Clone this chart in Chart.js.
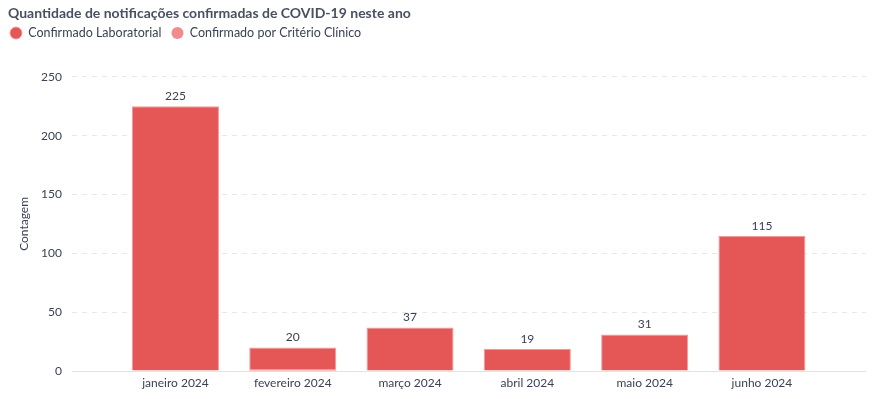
<!DOCTYPE html>
<html>
<head>
<meta charset="utf-8">
<script src="https://cdn.jsdelivr.net/npm/chart.js@4.4.1/dist/chart.umd.min.js"></script>
<style>
  html, body { margin: 0; padding: 0; background: #fff; }
  #wrap { width: 880px; height: 399px; }
</style>
</head>
<body>
<div id="wrap"><canvas id="bars"></canvas></div>
<script>
// dados do grafico
const meses = ['janeiro 2024', 'fevereiro 2024', 'março 2024', 'abril 2024', 'maio 2024', 'junho 2024'];
const laboratorial = [225, 19, 37, 19, 31, 115];
const clinico = [0, 1, 0, 0, 0, 0];
const yTicks = [0, 50, 100, 150, 200, 250];

const textColor = '#3b4256';
Chart.defaults.font.family = 'Lato, "Open Sans", sans-serif';
Chart.defaults.color = textColor;

// total em cima de cada barra
const totais = {
  id: 'totais',
  afterDatasetsDraw(chart) {
    const ctx = chart.ctx;
    const xs = chart.scales.x, ys = chart.scales.y;
    ctx.save();
    ctx.font = '12px Lato, sans-serif';
    ctx.fillStyle = textColor;
    ctx.textAlign = 'center';
    ctx.textBaseline = 'bottom';
    meses.forEach((m, i) => {
      const total = laboratorial[i] + clinico[i];
      ctx.fillText(String(total), xs.getPixelForValue(i), ys.getPixelForValue(total) - 4);
    });
    ctx.restore();
  }
};

// espaco extra abaixo da legenda + titulo um pouco para a direita
const ajustes = {
  id: 'ajustes',
  afterInit(chart) {
    const leg = chart.legend;
    if (leg) {
      const fit = leg.fit;
      leg.fit = function () { fit.call(this); this.height += 27.5; };
    }
    const tb = chart.titleBlock;
    if (tb) {
      const draw = tb.draw;
      tb.draw = function () {
        this.ctx.save();
        this.ctx.translate(8, 0);
        draw.call(this);
        this.ctx.restore();
      };
    }
  }
};

const ctx = document.getElementById('bars').getContext('2d');
const grafico = new Chart(ctx, {
  type: 'bar',
  data: {
    datasets: [{
      label: 'Confirmado por Critério Clínico',
      data: clinico.map((v, i) => ({x: i, y: v})),
      backgroundColor: '#f08c8c',
      borderColor: '#f4a3a3',
      borderWidth: 0
    }, {
      label: 'Confirmado Laboratorial',
      data: laboratorial.map((v, i) => ({x: i, y: v})),
      backgroundColor: '#e55656',
      borderColor: '#f19c9c',
      borderWidth: 1
    }]
  },
  options: {
    responsive: true,
    maintainAspectRatio: false,
    animation: false,
    layout: { padding: { left: 0, right: 14, top: 0, bottom: 0 } },
    datasets: { bar: { barPercentage: 0.742, categoryPercentage: 1 } },
    plugins: {
      title: {
        display: true,
        text: 'Quantidade de notificações confirmadas de COVID-19 neste ano',
        align: 'start',
        color: '#4a5060',
        font: { size: 14, weight: 'bold' },
        padding: { top: 5, bottom: -5 }
      },
      legend: {
        align: 'start',
        reverse: true,
        labels: {
          usePointStyle: true,
          pointStyle: 'circle',
          boxWidth: 12,
          boxHeight: 8.5,
          padding: 10,
          font: { size: 12.5 },
          color: textColor
        }
      },
      tooltip: { enabled: false }
    },
    scales: {
      x: {
        type: 'linear',
        stacked: true,
        offset: false,
        min: -0.882,
        max: 5.887,
        grid: { display: false, drawTicks: false },
        border: { display: false },
        afterBuildTicks: (s) => { s.ticks = meses.map((m, i) => ({ value: i })); },
        afterFit: (s) => { s.height = 28; },
        ticks: {
          padding: 5,
          font: { size: 12 },
          color: textColor,
          maxRotation: 0,
          autoSkip: false,
          callback: (v) => meses[v]
        }
      },
      y: {
        stacked: true,
        min: 0,
        max: 250,
        afterBuildTicks: (s) => { s.ticks = yTicks.map(v => ({ value: v })); },
        afterFit: (s) => { s.width = 72; },
        border: {
          display: false,
          dash: (c) => (c.tick && c.tick.value === 0) ? [] : [5, 5]
        },
        grid: {
          drawTicks: false,
          color: (c) => (c.tick && c.tick.value === 0) ? '#e2e2e2' : '#e8e8e8',
          lineWidth: 1
        },
        ticks: { padding: 10, font: { size: 12 }, color: textColor },
        title: {
          display: true,
          text: 'Contagem',
          font: { size: 12 },
          color: textColor,
          padding: { top: 17, bottom: 0 }
        }
      }
    }
  },
  plugins: [totais, ajustes]
});
</script>
</body>
</html>
